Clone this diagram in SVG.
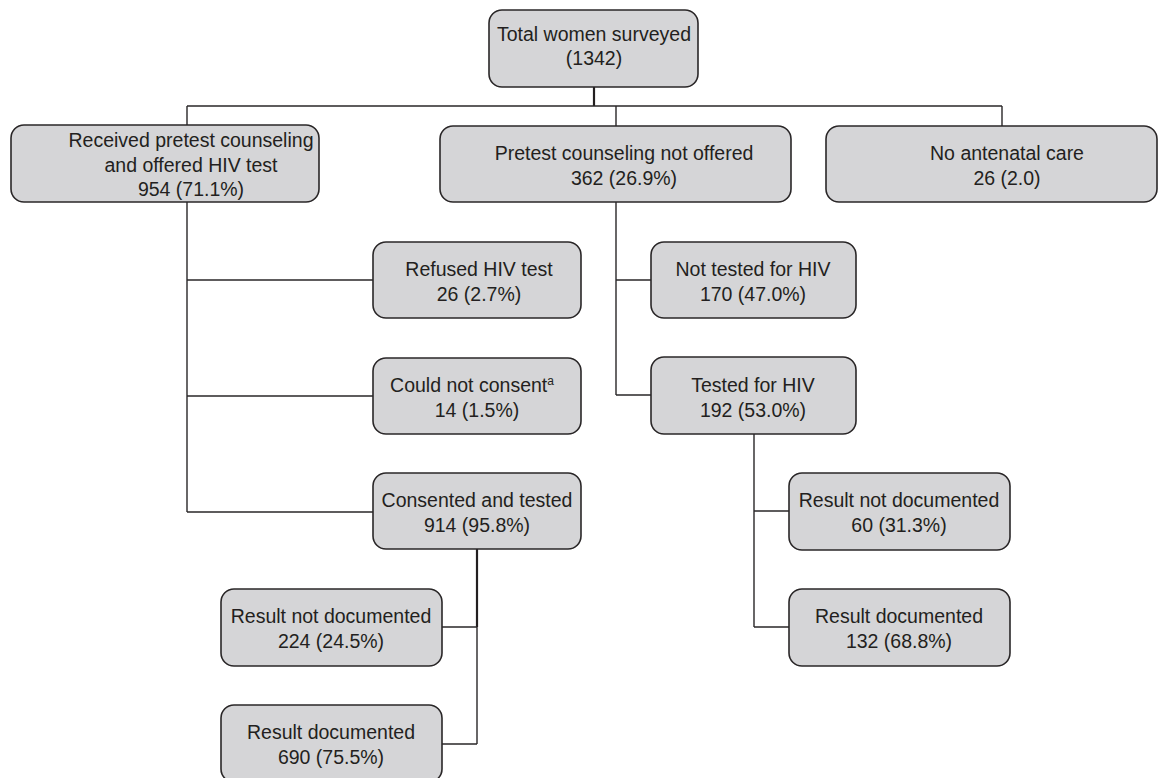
<svg xmlns="http://www.w3.org/2000/svg" width="1168" height="778" viewBox="0 0 1168 778">
<style>
.box{fill:#d5d5d7;stroke:#2a2728;stroke-width:1.6}
.t{font-family:"Liberation Sans",Arial,Helvetica,sans-serif;font-size:19.5px;fill:#231f20;text-anchor:middle}
.sup{font-size:12px}
.c{fill:none;stroke:#2a2728;stroke-width:1.4}
.ct{fill:none;stroke:#231f20;stroke-width:2.2}
</style>
<rect width="1168" height="778" fill="#ffffff"/>
<g id="connectors">
<path class="ct" d="M594 87V106"/>
<path class="c" d="M187 106H1002M187 106V125M616 106V126M1002 106V126"/>
<path class="c" d="M187 202V512M187 280H373M187 396H373M187 512H373"/>
<path class="c" d="M616 202V395M616 280H651M616 395H651"/>
<path class="ct" d="M477 549V627"/>
<path class="c" d="M477 627V744M442 627H477M442 744H477"/>
<path class="c" d="M754 434V627M754 511H789M754 627H789"/>
</g>
<g id="n-total">
<rect class="box" x="489" y="10" width="209" height="77" rx="13"/>
<text class="t" x="594" y="41">Total women surveyed</text>
<text class="t" x="594" y="65">(1342)</text>
</g>
<g id="n-received">
<rect class="box" x="11" y="125" width="308" height="77" rx="13"/>
<text class="t" x="191" y="147">Received pretest counseling</text>
<text class="t" x="191" y="172">and offered HIV test</text>
<text class="t" x="191" y="196">954 (71.1%)</text>
</g>
<g id="n-notoffered">
<rect class="box" x="440" y="126" width="351" height="76" rx="13"/>
<text class="t" x="624" y="160">Pretest counseling not offered</text>
<text class="t" x="624" y="185">362 (26.9%)</text>
</g>
<g id="n-noanc">
<rect class="box" x="826" y="126" width="331" height="76" rx="13"/>
<text class="t" x="1007" y="160">No antenatal care</text>
<text class="t" x="1007" y="185">26 (2.0)</text>
</g>
<g id="n-refused">
<rect class="box" x="373" y="242" width="208" height="76" rx="13"/>
<text class="t" x="479" y="276">Refused HIV test</text>
<text class="t" x="479" y="301">26 (2.7%)</text>
</g>
<g id="n-couldnot">
<rect class="box" x="373" y="358" width="208" height="76" rx="13"/>
<text class="t" x="472" y="392">Could not consent<tspan class="sup" dy="-7">a</tspan></text>
<text class="t" x="477" y="417">14 (1.5%)</text>
</g>
<g id="n-consented">
<rect class="box" x="373" y="473" width="208" height="76" rx="13"/>
<text class="t" x="477" y="507">Consented and tested</text>
<text class="t" x="477" y="532">914 (95.8%)</text>
</g>
<g id="n-nottested">
<rect class="box" x="651" y="242" width="205" height="76" rx="13"/>
<text class="t" x="753" y="276">Not tested for HIV</text>
<text class="t" x="753" y="301">170 (47.0%)</text>
</g>
<g id="n-tested">
<rect class="box" x="651" y="357" width="205" height="77" rx="13"/>
<text class="t" x="753" y="392">Tested for HIV</text>
<text class="t" x="753" y="417">192 (53.0%)</text>
</g>
<g id="n-r-notdoc">
<rect class="box" x="789" y="473" width="221" height="77" rx="13"/>
<text class="t" x="899" y="507">Result not documented</text>
<text class="t" x="899" y="532">60 (31.3%)</text>
</g>
<g id="n-r-doc">
<rect class="box" x="789" y="589" width="221" height="77" rx="13"/>
<text class="t" x="899" y="623">Result documented</text>
<text class="t" x="899" y="648">132 (68.8%)</text>
</g>
<g id="n-l-notdoc">
<rect class="box" x="221" y="589" width="221" height="77" rx="13"/>
<text class="t" x="331" y="623">Result not documented</text>
<text class="t" x="331" y="648">224 (24.5%)</text>
</g>
<g id="n-l-doc">
<rect class="box" x="221" y="705" width="221" height="77" rx="13"/>
<text class="t" x="331" y="739">Result documented</text>
<text class="t" x="331" y="764">690 (75.5%)</text>
</g>
</svg>
